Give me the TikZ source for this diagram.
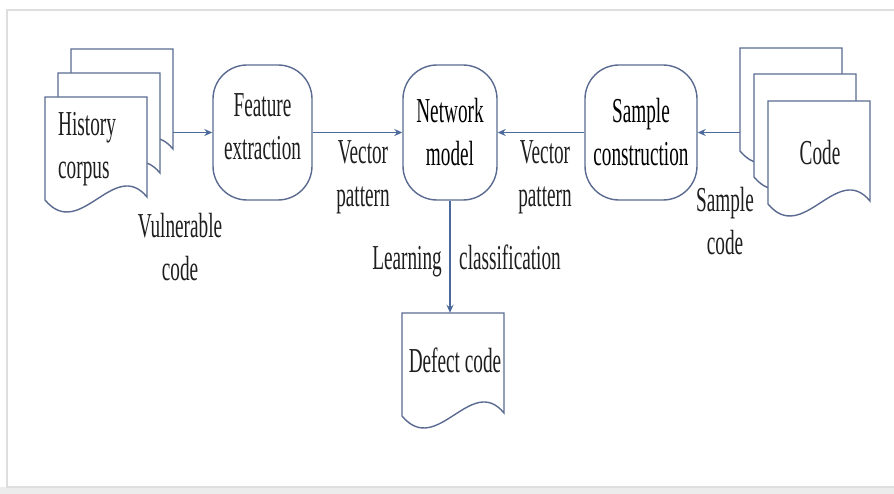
\documentclass[tikz,border=0pt]{standalone}
\usepackage{fontspec}
\setmainfont{Liberation Serif}[FakeStretch=0.55]
\usetikzlibrary{arrows.meta,fit}
\definecolor{boxc}{RGB}{90,106,145}
\definecolor{arrc}{RGB}{75,105,155}
\definecolor{txtc}{RGB}{30,30,30}
\definecolor{framec}{RGB}{222,222,222}
\definecolor{bandc}{RGB}{236,236,236}
\tikzset{
  docpic/.pic={\draw[boxc, line width=1.4pt, fill=white] (0,0) -- (102,0) -- (102,100) .. controls (69,60) and (35,145) .. (0,103) -- cycle;},
  roundbox/.style={draw=boxc, line width=1.4pt, rounded corners=34pt, fill=white,
    minimum height=135pt, align=center, inner sep=0pt},
  lbl/.style={text=txtc, align=center, inner sep=0pt},
  anchorbox/.style={inner sep=0pt},
  arr/.style={draw=arrc, line width=1.6pt, -{Stealth[length=8pt,width=7pt]}},
}
\begin{document}
\begin{tikzpicture}[x=1pt,y=-1pt, font=\fontsize{35}{43}\selectfont]
\useasboundingbox (0,0) rectangle (894,494);
% frame
\fill[bandc] (0,487) rectangle (894,494);
\draw[framec, line width=1.5pt] (894,10) -- (7,10) -- (7,487) -- (894,487);

% left stack
\pic at (71,49) {docpic};
\pic at (58,73) {docpic};
\pic at (45,97) {docpic};
\node[anchorbox, fit={(45,49) (173,200)}] (hist) {};
\node[lbl, align=left, anchor=west] (histtxt) at (58,149) {History\\corpus};

% right stack
\pic at (740,48) {docpic};
\pic at (754,74) {docpic};
\pic at (768,101) {docpic};
\node[anchorbox, fit={(740,48) (870,205)}] (code) {};
\node[lbl] (codetxt) at (820,153) {Code};

% defect doc
\pic at (402,313) {docpic};
\node[anchorbox, fit={(402,313) (504,415)}] (defect) {};
\node[lbl] (defecttxt) at (455,360) {Defect code};

% rounded boxes
\node[roundbox, minimum width=99pt] (fe) at (262.5,132.5) {};
\node[lbl] (fetxt) at ([yshift=6pt]fe.center) {Feature\\extraction};
\node[roundbox, minimum width=94pt] (nm) at (450,132.5) {Network\\model};
\node[roundbox, minimum width=112pt] (sc) at (641,132.5) {Sample\\construction};

% connectors
\draw[arr] (hist.east |- fe.west) -- (fe.west);
\draw[arr] (fe.east) -- (nm.west);
\draw[arr] (sc.west) -- (nm.east);
\draw[arr] (code.west |- sc.east) -- (sc.east);
\draw[arr] (nm.south) -- (nm.south |- defect.north);

% labels
\node[lbl] (vul) at (180,247) {Vulnerable\\code};
\node[lbl] (vp1) at (363,177) {Vector\\pattern};
\node[lbl] (vp2) at (545,177) {Vector\\pattern};
\node[lbl] (sco) at (725,221) {Sample\\code};
\node[lbl, anchor=base] (learn) at (407,270) {Learning};
\node[lbl, anchor=base] (cls) at (510,270) {classification};
\end{tikzpicture}
\end{document}
